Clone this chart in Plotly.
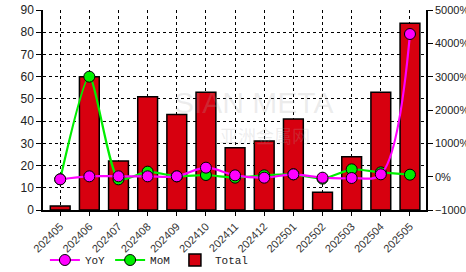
import plotly.graph_objects as go

months = ["202405", "202406", "202407", "202408", "202409", "202410", "202411",
          "202412", "202501", "202502", "202503", "202504", "202505"]
total = [1.8, 60, 22, 51, 43, 53, 28, 31, 41, 8, 24, 53, 84]
yoy = [-80, 10, 10, 10, 10, 270, 40, -30, 70, -30, -40, 70, 4280]
mom = [-80, 3000, -80, 150, 10, 50, -30, 40, 70, -60, 220, 130, 60]

fig = go.Figure()
fig.add_trace(go.Bar(
    x=months, y=total, name="Total", width=0.68, legendrank=3,
    marker=dict(color="#d7000f", line=dict(color="black", width=1.5)),
))
fig.add_trace(go.Scatter(
    x=months, y=mom, name="MoM", yaxis="y2", mode="lines+markers", legendrank=2,
    line=dict(color="#00ee00", width=2.2, shape="spline", smoothing=0.6),
    marker=dict(size=11, color="#00ee00", line=dict(color="black", width=1)),
))
fig.add_trace(go.Scatter(
    x=months, y=yoy, name="YoY", yaxis="y2", mode="lines+markers", legendrank=1,
    line=dict(color="#ff00ff", width=2.2, shape="spline"),
    marker=dict(size=11, color="#ff00ff", line=dict(color="black", width=1)),
))

fig.add_annotation(text="SIAN META", x=0.55, y=0.54, xref="paper", yref="paper",
                   showarrow=False, font=dict(size=30, color="rgba(170,170,170,0.22)",
                                              family="Liberation Sans"))
fig.add_annotation(text="亚洲金属网", x=0.58, y=0.3, xref="paper", yref="paper",
                   showarrow=False, font=dict(size=18, color="rgba(170,170,170,0.22)",
                                              family="Noto Sans CJK SC"))

fig.update_layout(
    template="none",
    width=466, height=272,
    margin=dict(l=43, r=40, t=10, b=62, autoexpand=False),
    plot_bgcolor="white", paper_bgcolor="white",
    showlegend=True,
    font=dict(family="Liberation Sans", size=11, color="#222"),
    xaxis=dict(
        type="category", range=[-0.59, 12.55],
        showline=True, linecolor="black", linewidth=1.5,
        showgrid=True, gridcolor="black", griddash="dot", gridwidth=1,
        ticks="outside", ticklen=4, tickcolor="black", tickangle=-45,
        tickfont=dict(size=11, color="#333"), automargin=False,
    ),
    yaxis=dict(
        range=[0, 90], dtick=10, showline=True, linecolor="black", linewidth=1.5,
        showgrid=True, gridcolor="black", griddash="dot", gridwidth=1,
        ticks="outside", ticklen=5, tickcolor="black", zeroline=False,
        tickfont=dict(size=12, color="#222"), automargin=False,
    ),
    yaxis2=dict(
        range=[-1000, 5000], dtick=1000, overlaying="y", side="right",
        showline=True, linecolor="black", linewidth=1.5, showgrid=False,
        ticks="outside", ticklen=5, tickcolor="black", ticksuffix="%",
        zeroline=False, tickfont=dict(size=11, color="#222"), automargin=False,
    ),
    legend=dict(
        orientation="h", x=0.005, xanchor="left", y=-0.25, yref="paper",
        yanchor="middle", traceorder="normal", bgcolor="rgba(0,0,0,0)",
        font=dict(family="Liberation Mono", size=11, color="#222"),
    ),
)

fig.write_html("out.html")
